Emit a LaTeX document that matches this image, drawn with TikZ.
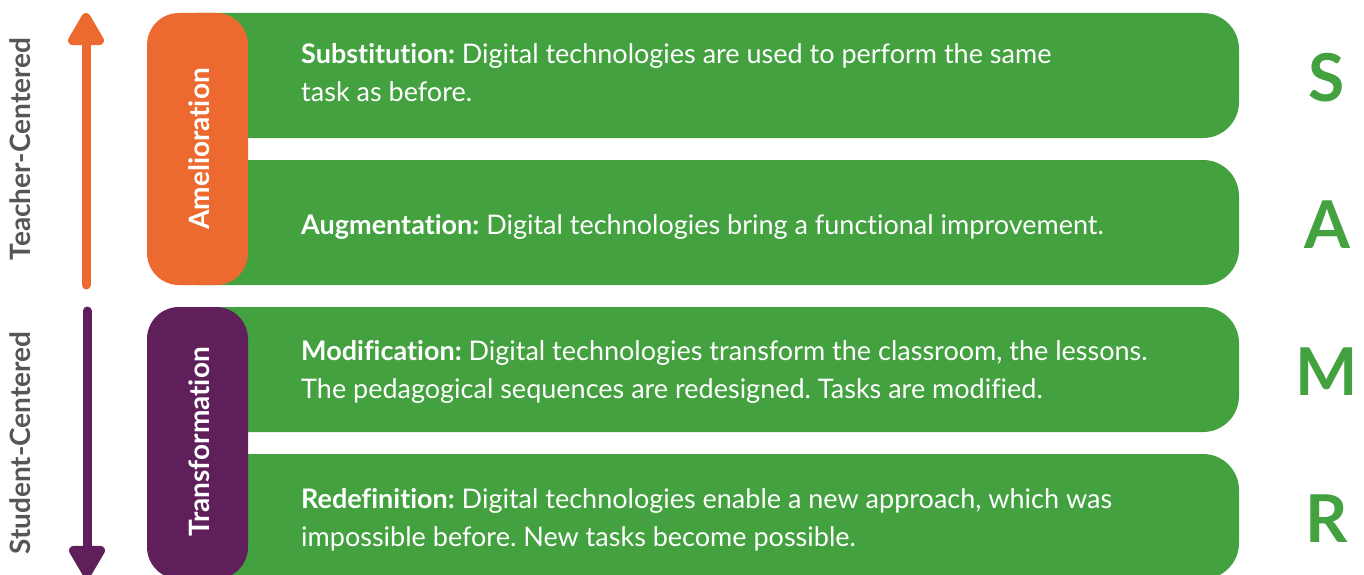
\documentclass[tikz,border=0pt]{standalone}
\usepackage{fontspec}
\setmainfont{Lato}[Ligatures=NoCommon]
\frenchspacing
\usetikzlibrary{arrows.meta}

\definecolor{samrgreen}{HTML}{43A13F}
\definecolor{amelorange}{HTML}{EC6A2F}
\definecolor{transpurple}{HTML}{5E1F5A}
\definecolor{axisgray}{HTML}{555658}

\begin{document}
\begin{tikzpicture}[x=1pt,y=-1pt,
  levelbar/.style={fill=samrgreen, rounded corners=36pt, minimum width=1079pt,
    minimum height=125pt, inner sep=0pt, outer sep=0pt},
  groupbox/.style={rounded corners=32pt, minimum width=101pt, inner sep=0pt, outer sep=0pt},
  grouplabel/.style={rotate=90, text=white, font=\fontsize{28}{28}\selectfont\bfseries},
  axislabel/.style={rotate=90, text=axisgray, font=\fontsize{28}{28}\selectfont\bfseries},
  desc/.style={anchor=base west, align=left, text=white, inner sep=0pt,
    font=\fontsize{27}{38}\selectfont},
  letter/.style={text=samrgreen, font=\fontsize{66}{66}\selectfont\bfseries, inner sep=0pt},
  axisarrow/.style={line width=9pt, line cap=round,
    -{Triangle[length=37pt, width=40pt, round]}}
]
\useasboundingbox (0,0) rectangle (1364,575);

% the four green level bars
\node[levelbar] (barS) at (699.5,75.5) {};
\node[levelbar] (barA) at (699.5,222.5) {};
\node[levelbar] (barM) at (699.5,369.5) {};
\node[levelbar] (barR) at (699.5,516.5) {};

% grouping boxes on the left of the bars
\node[groupbox, fill=amelorange, minimum height=272pt] (amel) at (197.5,149) {};
\node[groupbox, fill=transpurple, minimum height=272pt] (trans) at (197.5,443) {};
\node[grouplabel] (amelText) at (199,149) {Amelioration};
\node[grouplabel] (transText) at (199,442) {Transformation};

% descriptions (the base anchor sits on the last line)
\node[desc] (descS) at (301,102) {\textbf{Substitution:} Digital technologies are used to perform the same\\task as before.};
\node[desc] (descA) at (301,234) {\textbf{Augmentation:} Digital technologies bring a functional improvement.};
\node[desc] (descM) at (301,398) {\textbf{Modification:} Digital technologies transform the classroom, the lessons.\\The pedagogical sequences are redesigned. Tasks are modified.};
\node[desc] (descR) at (301,546) {\textbf{Redefinition:} Digital technologies enable a new approach, which was\\impossible before. New tasks become possible.};

% SAMR letters
\node[letter] (letS) at (1327,78) {S};
\node[letter] (letA) at (1327,225) {A};
\node[letter] (letM) at (1327,372) {M};
\node[letter] (letR) at (1327,519) {R};

% orientation axis
\coordinate (tcBottom) at (86,285);
\coordinate (tcTip) at (86,13);
\coordinate (scTop) at (87,311);
\coordinate (scTip) at (87,578);
\draw[axisarrow, draw=amelorange, fill=amelorange] (tcBottom) -- (tcTip);
\draw[axisarrow, draw=transpurple, fill=transpurple] (scTop) -- (scTip);
\node[axislabel] (teacher) at (20,149) {Teacher-Centered};
\node[axislabel] (student) at (20,443) {Student-Centered};
\end{tikzpicture}
\end{document}
